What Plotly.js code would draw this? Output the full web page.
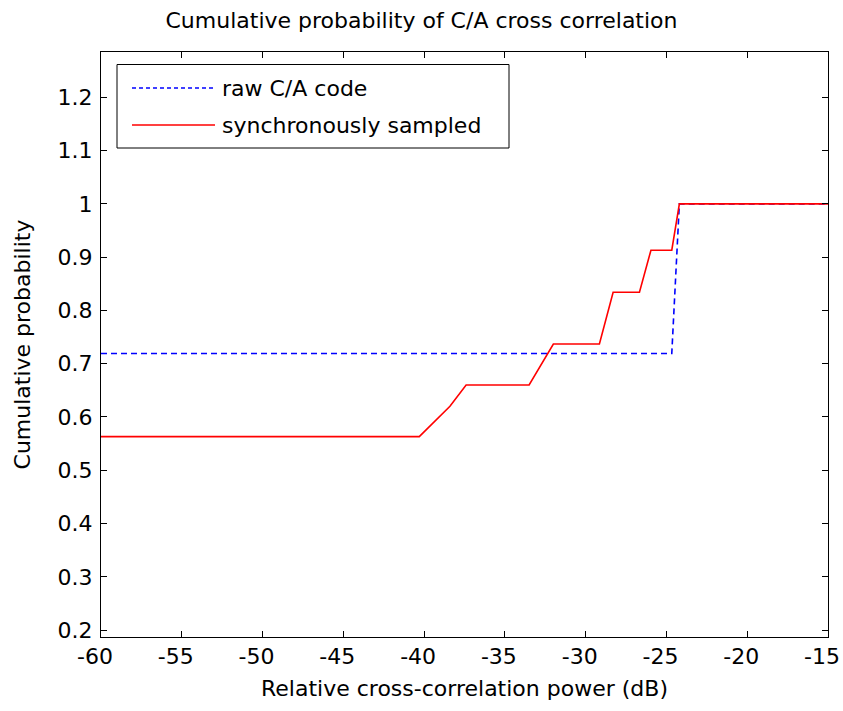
<!DOCTYPE html>
<html>
<head>
<meta charset="utf-8">
<script src="https://cdn.plot.ly/plotly-3.0.1.min.js"></script>
<style>html,body{margin:0;padding:0;background:#fff;}#chart{width:843px;height:711px;}</style>
</head>
<body>
<div id="chart"></div>
<script>
var rawX = [-60, -24.67, -24.2, -15];
var rawY = [0.719, 0.719, 1.0, 1.0];
var syncX = [-60, -40.3, -38.4, -37.4, -33.5, -32.0, -29.15, -28.3, -26.67, -25.96, -24.67, -24.2, -15];
var syncY = [0.563, 0.563, 0.62, 0.660, 0.660, 0.737, 0.737, 0.834, 0.834, 0.913, 0.913, 1.0, 1.0];
var xTicks = [-60, -55, -50, -45, -40, -35, -30, -25, -20, -15];
var yTicks = [0.2, 0.3, 0.4, 0.5, 0.6, 0.7, 0.8, 0.9, 1, 1.1, 1.2];
var seriesNames = ['raw C/A code', 'synchronously sampled'];

var font = '"DejaVu Sans", Verdana, sans-serif';
var fs = 22;
var blueDash = '6px,4px';
var traces = [
  {x: rawX, y: rawY, mode: 'lines', name: seriesNames[0], showlegend: false,
   line: {color: '#0000ff', dash: blueDash, width: 1.6}},
  {x: syncX, y: syncY, mode: 'lines', name: seriesNames[1], showlegend: false,
   line: {color: '#ff0000', width: 1.6}}
];
var axisCommon = {
  showgrid: false, zeroline: false, showline: true, mirror: 'ticks',
  linecolor: '#000', linewidth: 1, ticks: 'inside', ticklen: 6,
  tickcolor: '#000', tickfont: {family: font, size: fs, color: '#000'},
  ticklabeloverflow: 'allow'
};
function px2x(p) { return (p - 101) / 727; }
function px2y(p) { return (637 - p) / 585; }
var shapes = [
  {type: 'rect', xref: 'paper', yref: 'paper', x0: px2x(117), x1: px2x(509), y0: px2y(148), y1: px2y(64.5),
   line: {color: '#000', width: 1}, fillcolor: '#fff', layer: 'above'},
  {type: 'line', xref: 'paper', yref: 'paper', x0: px2x(132), x1: px2x(215), y0: px2y(88), y1: px2y(88),
   line: {color: '#0000ff', width: 1.6, dash: '4px,3px'}, layer: 'above'},
  {type: 'line', xref: 'paper', yref: 'paper', x0: px2x(132), x1: px2x(215), y0: px2y(125), y1: px2y(125),
   line: {color: '#ff0000', width: 1.6}, layer: 'above'}
];
var annotations = [
  {xref: 'paper', yref: 'paper', x: px2x(220), y: px2y(88), xanchor: 'left', yanchor: 'middle',
   text: seriesNames[0], showarrow: false, font: {family: font, size: fs, color: '#000'}},
  {xref: 'paper', yref: 'paper', x: px2x(220), y: px2y(125), xanchor: 'left', yanchor: 'middle',
   text: seriesNames[1], showarrow: false, font: {family: font, size: fs, color: '#000'}}
];
var layout = {
  width: 843, height: 711,
  margin: {l: 101, r: 15, t: 52, b: 74},
  paper_bgcolor: '#fff', plot_bgcolor: '#fff',
  font: {family: font, color: '#000'},
  title: {text: 'Cumulative probability of C/A cross correlation',
          font: {family: font, size: fs, color: '#000'}, x: 0.5, xanchor: 'center', y: 0.972, yanchor: 'middle'},
  xaxis: Object.assign({}, axisCommon, {
    range: [-60, -15], tickvals: xTicks, ticktext: xTicks.map(String),
    ticklabelshift: -6,
    title: {text: 'Relative cross-correlation power (dB)', font: {family: font, size: fs, color: '#000'}, standoff: 12}
  }),
  yaxis: Object.assign({}, axisCommon, {
    range: [0.187, 1.285], tickvals: yTicks, ticktext: yTicks.map(String),
    ticklabelstandoff: 3,
    title: {text: 'Cumulative probability', font: {family: font, size: fs, color: '#000'}, standoff: 20}
  }),
  showlegend: false,
  shapes: shapes,
  annotations: annotations
};
Plotly.newPlot('chart', traces, layout, {displayModeBar: false, staticPlot: true});
</script>
</body>
</html>
